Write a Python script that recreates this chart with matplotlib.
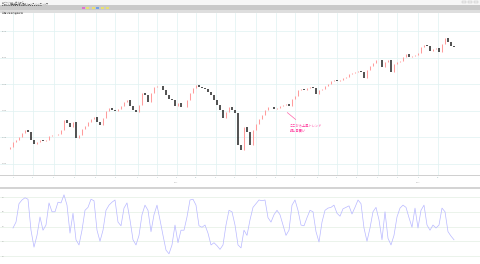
import numpy as np
import matplotlib
matplotlib.use("Agg")
import matplotlib.pyplot as plt
from matplotlib.patches import Rectangle
from matplotlib.transforms import blended_transform_factory

plt.rcParams['font.family'] = ['Noto Sans CJK JP', 'DejaVu Sans']

# ---------------- data ----------------
closes = [1132, 1141, 1145, 1151, 1158, 1164, 1160, 1145, 1138, 1141,
          1145, 1143, 1145, 1153, 1155, 1155, 1156, 1164, 1183, 1177,
          1170, 1179, 1149, 1155, 1166, 1171, 1179, 1185, 1188, 1179,
          1173, 1186, 1200, 1205, 1202, 1200, 1203, 1209, 1217, 1220,
          1209, 1202, 1198, 1211, 1233, 1230, 1217, 1233, 1245, 1247,
          1247, 1239, 1230, 1222, 1220, 1209, 1215, 1207, 1207, 1220,
          1233, 1243, 1249, 1245, 1243, 1241, 1235, 1230, 1220, 1211,
          1202, 1186, 1198, 1207, 1202, 1196, 1136, 1126, 1170, 1160,
          1136, 1164, 1175, 1185, 1192, 1202, 1207, 1207, 1203, 1205,
          1209, 1211, 1213, 1209, 1222, 1228, 1239, 1241, 1239, 1243,
          1245, 1243, 1232, 1239, 1241, 1247, 1250, 1256, 1258, 1256,
          1258, 1262, 1264, 1269, 1271, 1273, 1275, 1273, 1262, 1277,
          1284, 1290, 1296, 1296, 1282, 1292, 1296, 1273, 1288, 1292,
          1294, 1301, 1307, 1301, 1303, 1305, 1309, 1320, 1324, 1322,
          1312, 1316, 1318, 1311, 1326, 1337, 1329, 1322, 1320]
first_open = 1128

oscillator = [np.nan, 48, 56, 81, 86, 89, 87, 45, 22, 38,
              63, 45, 52, 82, 70, 70, 83, 82, 93, 79,
              41, 68, 32, 25, 45, 72, 76, 87, 85, 45,
              30, 45, 72, 79, 83, 86, 56, 51, 75, 82,
              59, 32, 25, 38, 66, 79, 72, 43, 66, 79,
              59, 38, 18, 13, 25, 52, 28, 45, 45, 63,
              86, 87, 79, 51, 49, 52, 41, 25, 28, 24,
              19, 25, 52, 72, 70, 52, 25, 21, 45, 38,
              59, 76, 81, 86, 85, 86, 62, 56, 66, 72,
              66, 52, 38, 45, 79, 86, 72, 52, 51, 62,
              72, 70, 43, 29, 56, 72, 75, 76, 79, 68,
              64, 74, 76, 78, 67, 76, 86, 81, 48, 30,
              48, 70, 76, 59, 32, 70, 34, 25, 38, 63,
              75, 79, 76, 62, 49, 75, 48, 72, 79, 52,
              45, 52, 48, 52, 75, 70, 43, 37, 32]

price_levels = [1100, 1150, 1200, 1250, 1300, 1350]
osc_levels = [10, 30, 50, 70, 90]
month_starts = [1, 7.5, 14.5, 21.5, 28.5, 35, 42.5, 49, 55.5, 62, 68.5,
                75, 82, 88.5, 95, 102.5, 109, 115.5, 122.5, 129, 136, 142.5]
month_labels = ['1', '2', '3', '4', '5', '6', '7', '8', '9', '10', '11',
                '12', '1', '2', '3', '4', '5', '6', '7', '8', '9', '10']
note_text = "ここから上昇トレンド\n押し目買い"

# ---------------- figure ----------------
W, H = 480, 264
fig = plt.figure(figsize=(4.8, 2.64), dpi=100)
bg = fig.add_axes([0, 0, 1, 1])
bg.set_xlim(0, W)
bg.set_ylim(H, 0)
bg.axis('off')

# window chrome
bg.add_patch(Rectangle((0, 0), W, 4.5, color='#f6f6f6', lw=0))
bg.add_patch(Rectangle((0, 4.5), W, 5.5, color='#c9c9c9', lw=0))
bg.add_patch(Rectangle((0, 10), W, 2.5, color='#dedede', lw=0))
bg.text(2, 1.2, "MetaStock - チャート", fontsize=1.6, color='#666666', va='center')
bg.text(2, 3.3, "ファイル 編集 表示 挿入 書式 ツール ウィンドウ ヘルプ", fontsize=1.4, color='#444444', va='center')
bg.text(2, 6.0, "▪ ▪ ▪ ▪ ▪ ▪ ▪ ▪ ▪ ▪ ▪ ▪ ▪ ▪ ▪ ▪ ▪ ▪ ▪", fontsize=1.5, color='#555555', va='center',
        family=['DejaVu Sans'])
for xx, cc in [(82, '#e070d0'), (86, '#e8e070'), (92, '#e8e070'), (96, '#70a0e8'), (101, '#e8e070'), (106, '#e8e070')]:
    bg.add_patch(Rectangle((xx, 6.5), 3, 2, color=cc, lw=0))
bg.text(2, 12.8, "日足  始値 高値 安値 終値", fontsize=1.4, color='#555555', va='center')
for xx in (462, 468, 474):
    bg.add_patch(Rectangle((xx, 0.6), 3.5, 2.2, fc='#eeeeee', ec='#aaaaaa', lw=0.2))
# separators
bg.add_patch(Rectangle((0, 175), W, 0.8, color='#d0d0d0', lw=0))
bg.add_patch(Rectangle((0, 186.5), W, 2.5, color='#d4d4d4', lw=0))

# ---------------- main price panel ----------------
n = len(closes)
idx = np.arange(n)
opens = [first_open] + closes[:-1]
ax = fig.add_axes([0, (H - 175) / H, 1, (175 - 12.5) / H])
ax.set_facecolor('none')
ax.set_xlim(-10 / 3, (W - 10) / 3)
ax.set_ylim(1079.3, 1384.8)
for s in ax.spines.values():
    s.set_visible(False)
ax.set_xticks([])
ax.set_yticks([])
for m in month_starts:
    ax.axvline(m, color='#e2f2f2', lw=0.55, zorder=0)
for p in price_levels:
    ax.axhline(p, color='#e2f2f2', lw=0.55, zorder=0)
    ax.text(-2.7, p, str(p), fontsize=1.6, color='#999999', va='center', ha='left')

up_x = [i for i in idx if closes[i] >= opens[i]]
dn_x = [i for i in idx if closes[i] < opens[i]]
ax.vlines(up_x, [opens[i] for i in up_x], [closes[i] for i in up_x], colors='#ff9c9c', lw=0.75, zorder=3)
ax.vlines(dn_x, [opens[i] for i in dn_x], [closes[i] for i in dn_x], colors='#222222', lw=1.1, zorder=3)

tr = blended_transform_factory(ax.transData, ax.transAxes)
for m, lab in zip(month_starts, month_labels):
    ax.text(m, -0.012, lab, transform=tr, fontsize=1.4, color='#8ab0b0', ha='center', va='top')
ax.text(55.5, -0.045, "2011", transform=tr, fontsize=1.4, color='#aaaaaa', ha='center', va='top')
ax.text(136, -0.045, "2012", transform=tr, fontsize=1.4, color='#aaaaaa', ha='center', va='top')

ax.annotate(note_text, xy=(91.7, 1200), xytext=(93.3, 1175),
            fontsize=2.3, color='#ff3399', ha='left', va='top', linespacing=1.0,
            arrowprops=dict(arrowstyle='-', color='#ff66aa', lw=0.5))

# ---------------- oscillator panel ----------------
ax2 = fig.add_axes([0, 0, 1, (H - 189) / H])
ax2.set_facecolor('none')
ax2.set_xlim(-10 / 3, (W - 10) / 3)
ax2.set_ylim(-0.85, 100.9)
for s in ax2.spines.values():
    s.set_visible(False)
ax2.set_xticks([])
ax2.set_yticks([])
for v in osc_levels:
    ax2.axhline(v, color='#e6f0e6', lw=0.55, zorder=0)
    ax2.text(-2.7, v, str(v), fontsize=1.6, color='#999999', va='center', ha='left')
ax2.plot(idx, oscillator, color='#b8b8ff', lw=0.5, zorder=3)

fig.savefig('out.png', dpi=100)
